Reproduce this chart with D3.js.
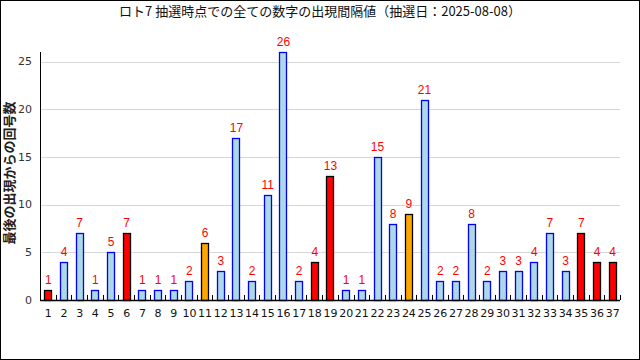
<!DOCTYPE html>
<html><head><meta charset="utf-8">
<script src="https://cdn.jsdelivr.net/npm/d3@7"></script>
<style>body{margin:0;background:#fff}svg{display:block}</style>
</head><body>
<script>
const numbers = d3.range(1, 38).map(String);
const values = [1,4,7,1,5,7,1,1,1,2,6,3,17,2,11,26,2,4,13,1,1,15,8,9,21,2,2,8,2,3,3,4,7,3,7,4,4];
const kinds = ["r","b","b","b","b","r","b","b","b","b","o","b","b","b","b","b","b","r","r","b","b","b","b","o","b","b","b","b","b","b","b","b","b","b","r","r","r"];
const yTicks = [0,5,10,15,20,25];
const title = "ロト7 抽選時点での全ての数字の出現間隔値（抽選日：2025-08-08）";
const yLabel = "最後の出現からの回号数";

const W = 640, H = 360;
const m = {l: 40, r: 20, t: 52, b: 60};
const svg = d3.select("body").append("svg").attr("width", W).attr("height", H);
svg.append("rect").attr("x",0.5).attr("y",0.5).attr("width",W-1).attr("height",H-1).attr("fill","#fff").attr("stroke","#000");

const x = d3.scaleBand().domain(numbers).range([m.l, W - m.r]).paddingInner(0.55).paddingOuter(0.275);
const y = d3.scaleLinear().domain([0, 26]).range([H - m.b, m.t]);
const font = "'DejaVu Sans', sans-serif";

// grid
svg.append("g").selectAll("line").data(yTicks.filter(d=>d>0)).join("line")
  .attr("x1", m.l).attr("x2", W - m.r)
  .attr("y1", d => Math.round(y(d))+0.5).attr("y2", d => Math.round(y(d))+0.5)
  .attr("stroke", "#d8d8d8");

// y labels
svg.append("g").selectAll("text").data(yTicks).join("text")
  .attr("x", m.l - 8).attr("y", d => y(d)).attr("dy", "0.35em")
  .attr("text-anchor", "end").attr("font-family", font).attr("font-size", 11).attr("fill","#333")
  .text(d => d);

const colors = {r: "#ff0000", o: "#ffa500", b: "#add8e6"};
const strokes = {r: "#000", o: "#000", b: "#0000ff"};
const bw = 7;
svg.append("g").selectAll("rect").data(numbers).join("rect")
  .attr("x", (d) => Math.round(x(d) + x.bandwidth()/2 - bw/2) + 0.5)
  .attr("y", (d,i) => Math.round(y(values[i])) + 0.5)
  .attr("width", bw)
  .attr("height", (d,i) => Math.round(y(0)) - Math.round(y(values[i])))
  .attr("fill", (d,i) => colors[kinds[i]])
  .attr("stroke", (d,i) => strokes[kinds[i]]).attr("stroke-width", 1.3);

// value labels
svg.append("g").selectAll("text").data(numbers).join("text")
  .attr("x", d => x(d) + x.bandwidth()/2 + 0.5)
  .attr("y", (d,i) => y(values[i]) - 6)
  .attr("text-anchor", "middle").attr("font-family", "'Liberation Sans', sans-serif").attr("font-size", 12).attr("fill", "#ff0000")
  .text((d,i) => values[i]);

// axes lines
svg.append("line").attr("x1", m.l+0.5).attr("x2", m.l+0.5).attr("y1", m.t).attr("y2", y(0)).attr("stroke","#000");
svg.append("line").attr("x1", m.l).attr("x2", W - m.r).attr("y1", Math.round(y(0))+0.5).attr("y2", Math.round(y(0))+0.5).attr("stroke","#000").attr("stroke-width",1.5);
// x ticks at band boundaries (upward)
const bounds = d3.range(0, numbers.length + 1).map(i => m.l + i * (W - m.r - m.l) / numbers.length);
svg.append("g").selectAll("line").data(bounds).join("line")
  .attr("x1", d => Math.round(d)+0.5).attr("x2", d => Math.round(d)+0.5)
  .attr("y1", y(0) - 5).attr("y2", y(0)).attr("stroke","#000");

// x labels
svg.append("g").selectAll("text").data(numbers).join("text")
  .attr("x", d => x(d) + x.bandwidth()/2 + 0.5).attr("y", y(0) + 17)
  .attr("text-anchor", "middle").attr("font-family", font).attr("font-size", 11).attr("fill","#111")
  .text(d => d);

// title
svg.append("text").attr("x", W/2).attr("y", 16).attr("text-anchor","middle")
  .attr("font-family", "'Noto Sans CJK JP', sans-serif").attr("font-size", 13).attr("fill","#111").text(title);

// y axis label
svg.append("text").attr("transform", `translate(14,${(m.t + y(0))/2 - 3}) rotate(-90)`)
  .attr("text-anchor","middle").attr("font-family", "'Noto Sans CJK JP', sans-serif").attr("font-size", 13)
  .attr("font-weight","bold").attr("fill","#222").text(yLabel);
</script>
</body></html>
